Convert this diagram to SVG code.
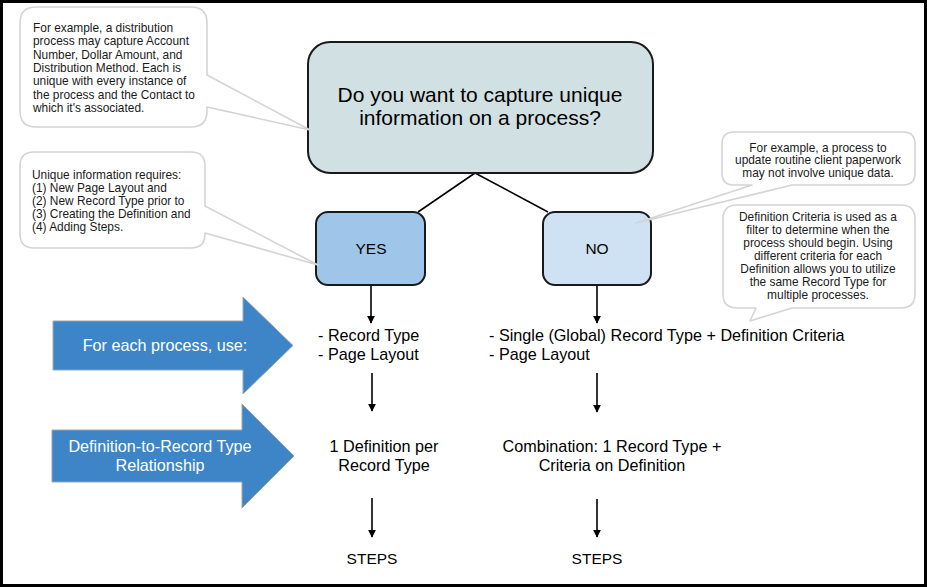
<svg xmlns="http://www.w3.org/2000/svg" width="927" height="587" viewBox="0 0 927 587">
<defs>
<style>
text{font-family:"Liberation Sans",Arial,sans-serif;fill:#000}
.note{font-size:11.9px;fill:#1a1a1a}
.callout{fill:#fff;stroke:#d4d4d4;stroke-width:1.6;stroke-linejoin:round}
.box{stroke:#1a1a1a;stroke-width:2}
.lbl{font-size:16.2px}
.blk{fill:#3d85c6;stroke:#9aa6b0;stroke-width:1}
.wt{fill:#fff;font-size:16.2px}
.conn{stroke:#000;stroke-width:1.6;fill:none}
</style>
<marker id="ah" viewBox="0 0 10 10" refX="9" refY="5" markerWidth="8" markerHeight="9" markerUnits="userSpaceOnUse" orient="auto">
<path d="M0,0 L10,5 L0,10 Z" fill="#000"/>
</marker>
</defs>
<rect x="0" y="0" width="927" height="587" fill="#000"/>
<rect x="3" y="3" width="921" height="581" fill="#fff"/>

<g id="connectors">
<line class="conn" x1="475" y1="173" x2="418" y2="212"/>
<line class="conn" x1="475" y1="173" x2="548" y2="212"/>
<line class="conn" x1="371" y1="285" x2="371" y2="323" marker-end="url(#ah)"/>
<line class="conn" x1="372" y1="373" x2="372" y2="411" marker-end="url(#ah)"/>
<line class="conn" x1="372" y1="498" x2="372" y2="537" marker-end="url(#ah)"/>
<line class="conn" x1="597" y1="285" x2="597" y2="323" marker-end="url(#ah)"/>
<line class="conn" x1="597" y1="373" x2="597" y2="412" marker-end="url(#ah)"/>
<line class="conn" x1="597" y1="499" x2="597" y2="537" marker-end="url(#ah)"/>
</g>

<g id="question">
<rect class="box" x="308" y="42" width="345" height="131" rx="22" fill="#d0e0e3"/>
<text x="480" y="102" font-size="21" text-anchor="middle">Do you want to capture unique</text>
<text x="480" y="125" font-size="21" text-anchor="middle">information on a process?</text>
</g>

<g id="yes">
<rect class="box" x="316" y="212" width="109" height="73" rx="12" fill="#9fc5e8"/>
<text x="371" y="254" font-size="15.5" text-anchor="middle">YES</text>
</g>

<g id="no">
<rect class="box" x="543" y="212" width="108" height="73" rx="12" fill="#cfe2f3"/>
<text x="597" y="254" font-size="15.5" text-anchor="middle">NO</text>
</g>

<g id="callout-example">
<path class="callout" d="M36,7 H191 Q207,7 207,23 V75 L310,130 L207,107 V111 Q207,127 191,127 H36 Q20,127 20,111 V23 Q20,7 36,7 Z"/>
<text class="note" x="33" y="32">For example, a distribution</text>
<text class="note" x="33" y="45.3">process may capture Account</text>
<text class="note" x="33" y="58.6">Number, Dollar Amount, and</text>
<text class="note" x="33" y="71.9">Distribution Method. Each is</text>
<text class="note" x="33" y="85.2">unique with every instance of</text>
<text class="note" x="33" y="98.5">the process and the Contact to</text>
<text class="note" x="33" y="111.8">which it's associated.</text>
</g>

<g id="callout-unique">
<path class="callout" d="M34,152 H191 Q205,152 205,166 V206 L318,265 L205,233 V234 Q205,248 191,248 H34 Q20,248 20,234 V166 Q20,152 34,152 Z"/>
<text class="note" x="32" y="179">Unique information requires:</text>
<text class="note" x="32" y="192">(1) New Page Layout and</text>
<text class="note" x="32" y="205">(2) New Record Type prior to</text>
<text class="note" x="32" y="218">(3) Creating the Definition and</text>
<text class="note" x="32" y="231">(4) Adding Steps.</text>
</g>

<g id="callout-no">
<path class="callout" d="M734,132 H903 Q915,132 915,144 V173 Q915,185 903,185 H792 L636,223 L752,185 H734 Q722,185 722,173 V144 Q722,132 734,132 Z"/>
<text class="note" x="818" y="151.5" text-anchor="middle">For example, a process to</text>
<text class="note" x="818" y="164.2" text-anchor="middle">update routine client paperwork</text>
<text class="note" x="818" y="176.9" text-anchor="middle">may not involve unique data.</text>
</g>

<g id="callout-criteria">
<path class="callout" d="M737,205 H901 Q915,205 915,219 V294 Q915,308 901,308 H792 L750,321 L756,308 H737 Q723,308 723,294 V219 Q723,205 737,205 Z"/>
<text class="note" x="818" y="221" text-anchor="middle">Definition Criteria is used as a</text>
<text class="note" x="818" y="234" text-anchor="middle">filter to determine when the</text>
<text class="note" x="818" y="247" text-anchor="middle">process should begin. Using</text>
<text class="note" x="818" y="260" text-anchor="middle">different criteria for each</text>
<text class="note" x="818" y="273" text-anchor="middle">Definition allows you to utilize</text>
<text class="note" x="818" y="286" text-anchor="middle">the same Record Type for</text>
<text class="note" x="818" y="299" text-anchor="middle">multiple processes.</text>
</g>

<g id="arrow-use">
<path class="blk" d="M53,321 H243 V297 L293,345.5 L243,394 V370 H53 Z"/>
<text class="wt" x="165" y="351" text-anchor="middle">For each process, use:</text>
</g>

<g id="arrow-relationship">
<path class="blk" d="M52,430 H242 V404 L294,456 L242,508 V482 H52 Z"/>
<text class="wt" x="160" y="452" text-anchor="middle">Definition-to-Record Type</text>
<text class="wt" x="160" y="471" text-anchor="middle">Relationship</text>
</g>

<g id="yes-use">
<text class="lbl" x="318" y="341">- Record Type</text>
<text class="lbl" x="318" y="360">- Page Layout</text>
</g>

<g id="yes-relationship">
<text class="lbl" x="384" y="452" text-anchor="middle">1 Definition per</text>
<text class="lbl" x="384" y="471" text-anchor="middle">Record Type</text>
</g>

<g id="yes-steps">
<text x="372" y="564" font-size="15.5" text-anchor="middle">STEPS</text>
</g>

<g id="no-use">
<text class="lbl" x="489" y="341">- Single (Global) Record Type + Definition Criteria</text>
<text class="lbl" x="489" y="360">- Page Layout</text>
</g>

<g id="no-relationship">
<text class="lbl" x="612" y="452" text-anchor="middle">Combination: 1 Record Type +</text>
<text class="lbl" x="612" y="471" text-anchor="middle">Criteria on Definition</text>
</g>

<g id="no-steps">
<text x="597" y="564" font-size="15.5" text-anchor="middle">STEPS</text>
</g>
</svg>
